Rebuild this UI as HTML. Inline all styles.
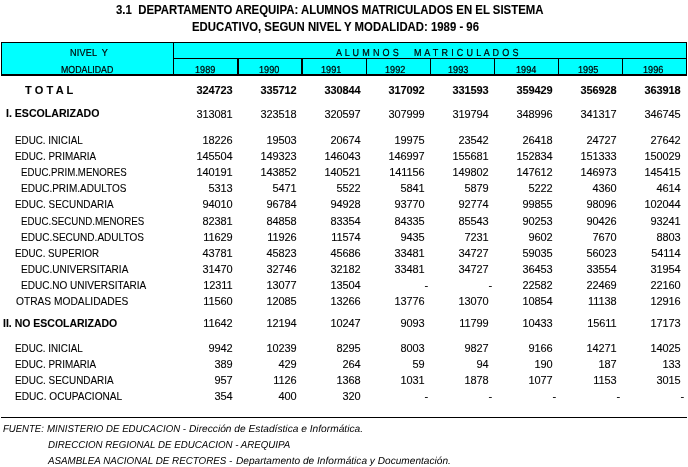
<!DOCTYPE html>
<html><head><meta charset="utf-8"><title>3.1 DEPARTAMENTO AREQUIPA</title>
<style>
html,body{margin:0;padding:0;background:#fff;}
body{width:688px;height:467px;position:relative;overflow:hidden;font-family:"Liberation Sans",Arial,sans-serif;color:#000;}
.t{position:absolute;white-space:pre;-webkit-text-stroke:0.1px #000;line-height:14px;height:14px;font-size:11px;transform-origin:0 0;}
.b{font-weight:bold;}
.i{font-style:italic;}
.n{text-align:right;width:60px;letter-spacing:-0.12px;}
.g{text-rendering:geometricPrecision;-webkit-text-stroke:0.22px #000;}
.x{position:absolute;background:#000;}
.c{position:absolute;background:#0ff;}
.i.g{-webkit-text-stroke:0;}
#w{position:absolute;left:0;top:0;width:688px;height:467px;will-change:transform;}
</style></head><body><div id="w">

<div class="x" style="left:1px;top:42px;width:686px;height:34px;"></div>
<div class="c" style="left:2px;top:43px;width:171px;height:31px;"></div>
<div class="c" style="left:174px;top:43px;width:512px;height:15px;"></div>
<div class="c" style="left:174px;top:59px;width:63px;height:15px;"></div>
<div class="c" style="left:239px;top:59px;width:62px;height:15px;"></div>
<div class="c" style="left:303px;top:59px;width:63px;height:15px;"></div>
<div class="c" style="left:367px;top:59px;width:63px;height:15px;"></div>
<div class="c" style="left:431px;top:59px;width:63px;height:15px;"></div>
<div class="c" style="left:495px;top:59px;width:63px;height:15px;"></div>
<div class="c" style="left:559px;top:59px;width:63px;height:15px;"></div>
<div class="c" style="left:623px;top:59px;width:63px;height:15px;"></div>
<div class="t b" style="left:116.00px;top:3.00px;font-size:12px;transform:scaleX(0.9489)">3.1  DEPARTAMENTO AREQUIPA: ALUMNOS MATRICULADOS EN EL SISTEMA</div>
<div class="t b" style="left:191.97px;top:20.00px;font-size:12px;transform:scaleX(0.9465)">EDUCATIVO, SEGUN NIVEL Y MODALIDAD: 1989 - 96</div>
<div class="t  g" style="left:70.00px;top:47.00px;font-size:10.15px;transform:scaleX(0.8900);letter-spacing:0.3px;word-spacing:2.247px">NIVEL Y</div>
<div class="t  g" style="left:61.04px;top:64.00px;font-size:10.15px;transform:scaleX(0.8692)">MODALIDAD</div>
<div class="t  g" style="left:336.00px;top:47.00px;font-size:10.15px;transform:scaleX(0.8900);letter-spacing:0.375px">A L U M N O S</div>
<div class="t  g" style="left:414.00px;top:47.00px;font-size:10.15px;transform:scaleX(0.8900);letter-spacing:0.409px">M A T R I C U L A D O S</div>
<div class="t  g" style="left:195.00px;top:64.00px;font-size:10.15px;transform:scaleX(0.9000)">1989</div>
<div class="t  g" style="left:259.00px;top:64.00px;font-size:10.15px;transform:scaleX(0.9000)">1990</div>
<div class="t  g" style="left:321.00px;top:64.00px;font-size:10.15px;transform:scaleX(0.9000)">1991</div>
<div class="t  g" style="left:385.00px;top:64.00px;font-size:10.15px;transform:scaleX(0.9000)">1992</div>
<div class="t  g" style="left:448.00px;top:64.00px;font-size:10.15px;transform:scaleX(0.9000)">1993</div>
<div class="t  g" style="left:516.00px;top:64.00px;font-size:10.15px;transform:scaleX(0.9000)">1994</div>
<div class="t  g" style="left:578.00px;top:64.00px;font-size:10.15px;transform:scaleX(0.9000)">1995</div>
<div class="t  g" style="left:643.00px;top:64.00px;font-size:10.15px;transform:scaleX(0.9000)">1996</div>
<div class="t b" style="left:25.00px;top:83.00px;font-size:11px;transform:scaleX(1.0036)">T O T A L</div>
<div class="t b" style="left:5.95px;top:106.00px;font-size:11px;transform:scaleX(0.9618)">I. ESCOLARIZADO</div>
<div class="t" style="left:15.03px;top:133.00px;font-size:11px;transform:scaleX(0.8929)">EDUC. INICIAL</div>
<div class="t" style="left:15.02px;top:149.00px;font-size:11px;transform:scaleX(0.8976)">EDUC. PRIMARIA</div>
<div class="t" style="left:21.05px;top:165.00px;font-size:11px;transform:scaleX(0.8778)">EDUC.PRIM.MENORES</div>
<div class="t" style="left:21.01px;top:181.00px;font-size:11px;transform:scaleX(0.9112)">EDUC.PRIM.ADULTOS</div>
<div class="t" style="left:15.02px;top:197.00px;font-size:11px;transform:scaleX(0.9016)">EDUC. SECUNDARIA</div>
<div class="t" style="left:21.04px;top:214.00px;font-size:11px;transform:scaleX(0.8838)">EDUC.SECUND.MENORES</div>
<div class="t" style="left:21.01px;top:230.00px;font-size:11px;transform:scaleX(0.9125)">EDUC.SECUND.ADULTOS</div>
<div class="t" style="left:15.04px;top:246.00px;font-size:11px;transform:scaleX(0.8875)">EDUC. SUPERIOR</div>
<div class="t" style="left:21.01px;top:262.00px;font-size:11px;transform:scaleX(0.9114)">EDUC.UNIVERSITARIA</div>
<div class="t" style="left:21.01px;top:278.00px;font-size:11px;transform:scaleX(0.9126)">EDUC.NO UNIVERSITARIA</div>
<div class="t" style="left:16.00px;top:294.00px;font-size:11px;transform:scaleX(0.9283)">OTRAS MODALIDADES</div>
<div class="t b" style="left:2.96px;top:316.00px;font-size:11px;transform:scaleX(0.9538)">II. NO ESCOLARIZADO</div>
<div class="t" style="left:15.03px;top:341.00px;font-size:11px;transform:scaleX(0.8929)">EDUC. INICIAL</div>
<div class="t" style="left:15.02px;top:357.00px;font-size:11px;transform:scaleX(0.8976)">EDUC. PRIMARIA</div>
<div class="t" style="left:15.02px;top:373.00px;font-size:11px;transform:scaleX(0.9016)">EDUC. SECUNDARIA</div>
<div class="t" style="left:15.00px;top:389.00px;font-size:11px;transform:scaleX(0.9200)">EDUC. OCUPACIONAL</div>
<div class="t i g" style="left:3.00px;top:423.00px;font-size:10.15px;transform:scaleX(0.9442)">FUENTE:</div>
<div class="t i g" style="left:47.00px;top:423.00px;font-size:10.15px;transform:scaleX(0.9543)">MINISTERIO DE EDUCACION -</div>
<div class="t i g" style="left:189.00px;top:423.00px;font-size:10.15px;transform:scaleX(1.0073)">Dirección de Estadística e Informática.</div>
<div class="t i g" style="left:48.00px;top:439.00px;font-size:10.15px;transform:scaleX(0.9597)">DIRECCION REGIONAL DE EDUCACION - AREQUIPA</div>
<div class="t i g" style="left:48.00px;top:455.00px;font-size:10.15px;transform:scaleX(0.9673)">ASAMBLEA NACIONAL DE RECTORES -</div>
<div class="t i g" style="left:236.00px;top:455.00px;font-size:10.15px;transform:scaleX(0.9994)">Departamento de Informática y Documentación.</div>
<div class="t n b" style="left:172.4px;top:83.00px">324723</div>
<div class="t n b" style="left:236.4px;top:83.00px">335712</div>
<div class="t n b" style="left:300.4px;top:83.00px">330844</div>
<div class="t n b" style="left:364.4px;top:83.00px">317092</div>
<div class="t n b" style="left:428.4px;top:83.00px">331593</div>
<div class="t n b" style="left:492.4px;top:83.00px">359429</div>
<div class="t n b" style="left:556.4px;top:83.00px">356928</div>
<div class="t n b" style="left:620.4px;top:83.00px">363918</div>
<div class="t n" style="left:172.4px;top:107.00px">313081</div>
<div class="t n" style="left:236.4px;top:107.00px">323518</div>
<div class="t n" style="left:300.4px;top:107.00px">320597</div>
<div class="t n" style="left:364.4px;top:107.00px">307999</div>
<div class="t n" style="left:428.4px;top:107.00px">319794</div>
<div class="t n" style="left:492.4px;top:107.00px">348996</div>
<div class="t n" style="left:556.4px;top:107.00px">341317</div>
<div class="t n" style="left:620.4px;top:107.00px">346745</div>
<div class="t n" style="left:172.4px;top:133.00px">18226</div>
<div class="t n" style="left:236.4px;top:133.00px">19503</div>
<div class="t n" style="left:300.4px;top:133.00px">20674</div>
<div class="t n" style="left:364.4px;top:133.00px">19975</div>
<div class="t n" style="left:428.4px;top:133.00px">23542</div>
<div class="t n" style="left:492.4px;top:133.00px">26418</div>
<div class="t n" style="left:556.4px;top:133.00px">24727</div>
<div class="t n" style="left:620.4px;top:133.00px">27642</div>
<div class="t n" style="left:172.4px;top:149.00px">145504</div>
<div class="t n" style="left:236.4px;top:149.00px">149323</div>
<div class="t n" style="left:300.4px;top:149.00px">146043</div>
<div class="t n" style="left:364.4px;top:149.00px">146997</div>
<div class="t n" style="left:428.4px;top:149.00px">155681</div>
<div class="t n" style="left:492.4px;top:149.00px">152834</div>
<div class="t n" style="left:556.4px;top:149.00px">151333</div>
<div class="t n" style="left:620.4px;top:149.00px">150029</div>
<div class="t n" style="left:172.4px;top:165.00px">140191</div>
<div class="t n" style="left:236.4px;top:165.00px">143852</div>
<div class="t n" style="left:300.4px;top:165.00px">140521</div>
<div class="t n" style="left:364.4px;top:165.00px">141156</div>
<div class="t n" style="left:428.4px;top:165.00px">149802</div>
<div class="t n" style="left:492.4px;top:165.00px">147612</div>
<div class="t n" style="left:556.4px;top:165.00px">146973</div>
<div class="t n" style="left:620.4px;top:165.00px">145415</div>
<div class="t n" style="left:172.4px;top:181.00px">5313</div>
<div class="t n" style="left:236.4px;top:181.00px">5471</div>
<div class="t n" style="left:300.4px;top:181.00px">5522</div>
<div class="t n" style="left:364.4px;top:181.00px">5841</div>
<div class="t n" style="left:428.4px;top:181.00px">5879</div>
<div class="t n" style="left:492.4px;top:181.00px">5222</div>
<div class="t n" style="left:556.4px;top:181.00px">4360</div>
<div class="t n" style="left:620.4px;top:181.00px">4614</div>
<div class="t n" style="left:172.4px;top:197.00px">94010</div>
<div class="t n" style="left:236.4px;top:197.00px">96784</div>
<div class="t n" style="left:300.4px;top:197.00px">94928</div>
<div class="t n" style="left:364.4px;top:197.00px">93770</div>
<div class="t n" style="left:428.4px;top:197.00px">92774</div>
<div class="t n" style="left:492.4px;top:197.00px">99855</div>
<div class="t n" style="left:556.4px;top:197.00px">98096</div>
<div class="t n" style="left:620.4px;top:197.00px">102044</div>
<div class="t n" style="left:172.4px;top:214.00px">82381</div>
<div class="t n" style="left:236.4px;top:214.00px">84858</div>
<div class="t n" style="left:300.4px;top:214.00px">83354</div>
<div class="t n" style="left:364.4px;top:214.00px">84335</div>
<div class="t n" style="left:428.4px;top:214.00px">85543</div>
<div class="t n" style="left:492.4px;top:214.00px">90253</div>
<div class="t n" style="left:556.4px;top:214.00px">90426</div>
<div class="t n" style="left:620.4px;top:214.00px">93241</div>
<div class="t n" style="left:172.4px;top:230.00px">11629</div>
<div class="t n" style="left:236.4px;top:230.00px">11926</div>
<div class="t n" style="left:300.4px;top:230.00px">11574</div>
<div class="t n" style="left:364.4px;top:230.00px">9435</div>
<div class="t n" style="left:428.4px;top:230.00px">7231</div>
<div class="t n" style="left:492.4px;top:230.00px">9602</div>
<div class="t n" style="left:556.4px;top:230.00px">7670</div>
<div class="t n" style="left:620.4px;top:230.00px">8803</div>
<div class="t n" style="left:172.4px;top:246.00px">43781</div>
<div class="t n" style="left:236.4px;top:246.00px">45823</div>
<div class="t n" style="left:300.4px;top:246.00px">45686</div>
<div class="t n" style="left:364.4px;top:246.00px">33481</div>
<div class="t n" style="left:428.4px;top:246.00px">34727</div>
<div class="t n" style="left:492.4px;top:246.00px">59035</div>
<div class="t n" style="left:556.4px;top:246.00px">56023</div>
<div class="t n" style="left:620.4px;top:246.00px">54114</div>
<div class="t n" style="left:172.4px;top:262.00px">31470</div>
<div class="t n" style="left:236.4px;top:262.00px">32746</div>
<div class="t n" style="left:300.4px;top:262.00px">32182</div>
<div class="t n" style="left:364.4px;top:262.00px">33481</div>
<div class="t n" style="left:428.4px;top:262.00px">34727</div>
<div class="t n" style="left:492.4px;top:262.00px">36453</div>
<div class="t n" style="left:556.4px;top:262.00px">33554</div>
<div class="t n" style="left:620.4px;top:262.00px">31954</div>
<div class="t n" style="left:172.4px;top:278.00px">12311</div>
<div class="t n" style="left:236.4px;top:278.00px">13077</div>
<div class="t n" style="left:300.4px;top:278.00px">13504</div>
<div class="t n" style="left:368.0px;top:278.00px">-</div>
<div class="t n" style="left:432.0px;top:278.00px">-</div>
<div class="t n" style="left:492.4px;top:278.00px">22582</div>
<div class="t n" style="left:556.4px;top:278.00px">22469</div>
<div class="t n" style="left:620.4px;top:278.00px">22160</div>
<div class="t n" style="left:172.4px;top:294.00px">11560</div>
<div class="t n" style="left:236.4px;top:294.00px">12085</div>
<div class="t n" style="left:300.4px;top:294.00px">13266</div>
<div class="t n" style="left:364.4px;top:294.00px">13776</div>
<div class="t n" style="left:428.4px;top:294.00px">13070</div>
<div class="t n" style="left:492.4px;top:294.00px">10854</div>
<div class="t n" style="left:556.4px;top:294.00px">11138</div>
<div class="t n" style="left:620.4px;top:294.00px">12916</div>
<div class="t n" style="left:172.4px;top:316.00px">11642</div>
<div class="t n" style="left:236.4px;top:316.00px">12194</div>
<div class="t n" style="left:300.4px;top:316.00px">10247</div>
<div class="t n" style="left:364.4px;top:316.00px">9093</div>
<div class="t n" style="left:428.4px;top:316.00px">11799</div>
<div class="t n" style="left:492.4px;top:316.00px">10433</div>
<div class="t n" style="left:556.4px;top:316.00px">15611</div>
<div class="t n" style="left:620.4px;top:316.00px">17173</div>
<div class="t n" style="left:172.4px;top:341.00px">9942</div>
<div class="t n" style="left:236.4px;top:341.00px">10239</div>
<div class="t n" style="left:300.4px;top:341.00px">8295</div>
<div class="t n" style="left:364.4px;top:341.00px">8003</div>
<div class="t n" style="left:428.4px;top:341.00px">9827</div>
<div class="t n" style="left:492.4px;top:341.00px">9166</div>
<div class="t n" style="left:556.4px;top:341.00px">14271</div>
<div class="t n" style="left:620.4px;top:341.00px">14025</div>
<div class="t n" style="left:172.4px;top:357.00px">389</div>
<div class="t n" style="left:236.4px;top:357.00px">429</div>
<div class="t n" style="left:300.4px;top:357.00px">264</div>
<div class="t n" style="left:364.4px;top:357.00px">59</div>
<div class="t n" style="left:428.4px;top:357.00px">94</div>
<div class="t n" style="left:492.4px;top:357.00px">190</div>
<div class="t n" style="left:556.4px;top:357.00px">187</div>
<div class="t n" style="left:620.4px;top:357.00px">133</div>
<div class="t n" style="left:172.4px;top:373.00px">957</div>
<div class="t n" style="left:236.4px;top:373.00px">1126</div>
<div class="t n" style="left:300.4px;top:373.00px">1368</div>
<div class="t n" style="left:364.4px;top:373.00px">1031</div>
<div class="t n" style="left:428.4px;top:373.00px">1878</div>
<div class="t n" style="left:492.4px;top:373.00px">1077</div>
<div class="t n" style="left:556.4px;top:373.00px">1153</div>
<div class="t n" style="left:620.4px;top:373.00px">3015</div>
<div class="t n" style="left:172.4px;top:389.00px">354</div>
<div class="t n" style="left:236.4px;top:389.00px">400</div>
<div class="t n" style="left:300.4px;top:389.00px">320</div>
<div class="t n" style="left:368.0px;top:389.00px">-</div>
<div class="t n" style="left:432.0px;top:389.00px">-</div>
<div class="t n" style="left:496.0px;top:389.00px">-</div>
<div class="t n" style="left:560.0px;top:389.00px">-</div>
<div class="t n" style="left:624.0px;top:389.00px">-</div>
<div class="x" style="left:1px;top:417px;width:686px;height:1px;"></div>
</div></body></html>
